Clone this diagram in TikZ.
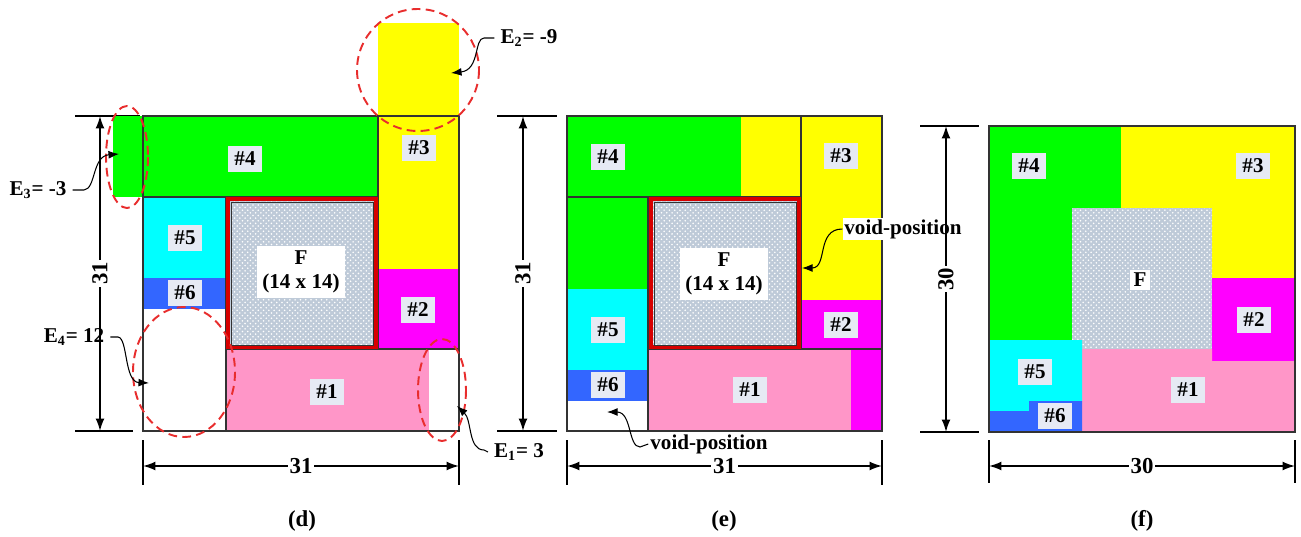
\documentclass[tikz,border=0pt]{standalone}
\usepackage{fontspec}
\setmainfont{Liberation Serif}
\usepackage{xcolor}
\usepackage{tikz}
\usetikzlibrary{arrows.meta,patterns}
\definecolor{pcgreen}{RGB}{0,255,0}
\definecolor{pcyellow}{RGB}{255,255,0}
\definecolor{pccyan}{RGB}{0,255,255}
\definecolor{pcmagenta}{RGB}{255,0,255}
\definecolor{pcpink}{RGB}{255,150,200}
\definecolor{pcblue}{RGB}{51,102,255}
\definecolor{labelbg}{RGB}{230,234,244}
\definecolor{ringred}{RGB}{232,45,45}
\definecolor{framered}{RGB}{215,0,0}
\definecolor{fbase}{RGB}{190,202,216}

\begin{document}
\begin{tikzpicture}[
    x=0.02cm, y=-0.02cm,
    every node/.style={font=\bfseries\fontsize{12}{13.5}\selectfont, align=center},
    numbox/.style={fill=labelbg, inner sep=3.5pt, font=\bfseries\fontsize{12}{13}\selectfont},
    fbox/.style={fill=white, inner sep=3pt},
    outline/.style={draw=black!80, line width=0.6pt},
    extline/.style={line width=0.9pt},
    dimline/.style={line width=0.9pt, {Latex[length=7pt,width=5pt]}-{Latex[length=7pt,width=5pt]}},
    dimtxt/.style={fill=white, inner sep=1pt, font=\bfseries\fontsize{13}{14}\selectfont},
    gapring/.style={draw=ringred, line width=1.1pt, dash pattern=on 5pt off 3pt},
    squig/.style={line width=0.6pt, -{Latex[length=6pt,width=4.5pt]}},
    redframe/.style={draw=framered, line width=2.4pt},
    fpiece/.style={pattern=crosshatch dots, pattern color=white}
]
\useasboundingbox (0,0) rectangle (1301,537);

% ---------------- (d) ----------------
\draw[extline] (75,116) -- (140,116);
\draw[extline] (75,431) -- (133,431);
\draw[extline] (143,440) -- (143,485);
\draw[extline] (459,440) -- (459,485);
\fill[pcgreen] (113,116) rectangle (378,197);
\fill[pcyellow] (378,23) rectangle (459,269);
\fill[pcmagenta] (378,269) rectangle (459,349);
\fill[pccyan] (143,197) rectangle (226,278);
\fill[pcblue] (143,278) rectangle (226,309);
\fill[pcpink] (226,349) rectangle (429,431);
\fill[fbase] (226,197) rectangle (378,349);
\fill[fpiece] (226,197) rectangle (378,349);
\draw[outline] (143,116) rectangle (459,431);
\draw[outline] (143,116) rectangle (378,197);
\draw[outline] (378,116) -- (378,349);
\draw[outline] (226,349) -- (459,349);
\draw[outline] (226,197) -- (226,431);
\draw[redframe] (228,199) rectangle (376,347);
\draw[outline, line width=0.5pt] (231,202) rectangle (373,345);

\node[numbox] (d4) at (245,159) {\#4};
\node[numbox] (d3) at (419,148) {\#3};
\node[numbox] (d5) at (185,238) {\#5};
\node[numbox] (d6) at (185,293) {\#6};
\node[numbox] (d2) at (418,310) {\#2};
\node[numbox] (d1) at (327,392) {\#1};
\node[fbox] (dF) at (301,272) {F\\(14 x 14)};

% gaps
\draw[gapring] (418,70) ellipse (61 and 61);
\draw[gapring] (127,157) ellipse (21 and 51);
\draw[gapring] (184,372) ellipse (51 and 65);
\draw[gapring] (442,390) ellipse (24 and 51);

\node (e2) at (529,38) {E\textsubscript{2}= -9};
\node (e3) at (38,190) {E\textsubscript{3}= -3};
\node (e4) at (74,337) {E\textsubscript{4}= 12};
\node (e1) at (519,452) {E\textsubscript{1}= 3};
\coordinate (tE2) at (451,73);
\coordinate (tE3) at (119,154);
\coordinate (tE4) at (149,383);
\coordinate (tE1) at (457,406);
\draw[squig] (e2.west) -- (484,38) .. controls (474,38) and (480,70) .. (tE2);
\draw[squig] (e3.east) -- (84,190) .. controls (96,189) and (92,156) .. (tE3);
\draw[squig] (e4.east) -- (118,337) .. controls (128,338) and (124,382) .. (tE4);
\draw[squig] (e1.west) -- (484,450) .. controls (468,450) and (472,420) .. (tE1);

\coordinate (dvT) at (100,116);
\coordinate (dvB) at (100,431);
\coordinate (dhL) at (143,466);
\coordinate (dhR) at (459,466);
\draw[dimline] (dvT) -- node[dimtxt, rotate=90] (dv) {31} (dvB);
\draw[dimline] (dhL) -- node[dimtxt] (dh) {31} (dhR);
\node[font=\bfseries\fontsize{13}{14}\selectfont] (capd) at (302,521) {(d)};

% ---------------- (e) ----------------
\draw[extline] (497,116) -- (557,116);
\draw[extline] (497,431) -- (557,431);
\draw[extline] (567,440) -- (567,485);
\draw[extline] (882,440) -- (882,485);
\fill[pcgreen] (567,116) rectangle (741,197);
\fill[pcyellow] (741,116) rectangle (801,197);
\fill[pcyellow] (801,116) rectangle (882,300);
\fill[pcmagenta] (801,300) rectangle (882,349);
\fill[pcgreen] (567,197) rectangle (648,289);
\fill[pccyan] (567,289) rectangle (648,370);
\fill[pcblue] (567,370) rectangle (648,401);
\fill[pcpink] (648,349) rectangle (851,431);
\fill[pcmagenta] (851,349) rectangle (882,431);
\fill[fbase] (648,197) rectangle (801,349);
\fill[fpiece] (648,197) rectangle (801,349);
\draw[outline] (567,116) rectangle (882,431);
\draw[outline] (567,116) rectangle (801,197);
\draw[outline] (801,116) -- (801,349);
\draw[outline] (648,349) -- (882,349);
\draw[outline] (648,197) -- (648,431);
\draw[redframe] (651,199) rectangle (799,347);
\draw[outline, line width=0.5pt] (654,202) rectangle (796,345);

\node[numbox] (e4n) at (608,157) {\#4};
\node[numbox] (e3n) at (841,156) {\#3};
\node[numbox] (e5n) at (608,330) {\#5};
\node[numbox] (e6n) at (608,385) {\#6};
\node[numbox] (e2n) at (841,325) {\#2};
\node[numbox] (e1n) at (750,390) {\#1};
\node[fbox] (eF) at (724,274) {F\\(14 x 14)};

\node[fill=white, inner sep=1pt] (vR) at (903,229) {void-position};
\node[inner sep=1pt] (vB) at (709,444) {void-position};
\coordinate (tvR) at (802,268);
\coordinate (tvB) at (607,412);
\draw[squig] (vR.west) .. controls (816,229) and (828,268) .. (tvR);
\draw[squig] (vB.west) -- (640,447) .. controls (628,447) and (632,412) .. (tvB);

\coordinate (evT) at (523,116);
\coordinate (evB) at (523,431);
\coordinate (ehL) at (567,466);
\coordinate (ehR) at (882,466);
\draw[dimline] (evT) -- node[dimtxt, rotate=90] (ev) {31} (evB);
\draw[dimline] (ehL) -- node[dimtxt] (eh) {31} (ehR);
\node[font=\bfseries\fontsize{13}{14}\selectfont] (cape) at (724,521) {(e)};

% ---------------- (f) ----------------
\draw[extline] (920,126) -- (979,126);
\draw[extline] (920,432) -- (979,432);
\draw[extline] (989,440) -- (989,483);
\draw[extline] (1295,440) -- (1295,483);
\fill[pcgreen] (989,126) -- (1121,126) -- (1121,208) -- (1072,208) -- (1072,340) -- (989,340) -- cycle;
\fill[pcyellow] (1121,126) -- (1295,126) -- (1295,278) -- (1212,278) -- (1212,208) -- (1121,208) -- cycle;
\fill[fbase] (1072,208) rectangle (1212,349);
\fill[fpiece] (1072,208) rectangle (1212,349);
\fill[pcmagenta] (1212,278) rectangle (1295,361);
\fill[pcpink] (1082,349) -- (1212,349) -- (1212,361) -- (1295,361) -- (1295,432) -- (1082,432) -- cycle;
\fill[pccyan] (989,340) -- (1082,340) -- (1082,401) -- (1029,401) -- (1029,411) -- (989,411) -- cycle;
\fill[pcblue] (989,411) -- (1029,411) -- (1029,401) -- (1082,401) -- (1082,432) -- (989,432) -- cycle;
\draw[outline] (989,126) rectangle (1295,432);

\node[numbox] (f4) at (1029,166) {\#4};
\node[numbox] (f3) at (1253,166) {\#3};
\node[fill=white, inner sep=2pt] (fF) at (1140,280) {F};
\node[numbox] (f2) at (1254,320) {\#2};
\node[numbox] (f5) at (1035,372) {\#5};
\node[numbox] (f6) at (1055,416) {\#6};
\node[numbox] (f1) at (1188,390) {\#1};

\coordinate (fvT) at (946,126);
\coordinate (fvB) at (946,432);
\coordinate (fhL) at (989,466);
\coordinate (fhR) at (1295,466);
\draw[dimline] (fvT) -- node[dimtxt, rotate=90] (fv) {30} (fvB);
\draw[dimline] (fhL) -- node[dimtxt] (fh) {30} (fhR);
\node[font=\bfseries\fontsize{13}{14}\selectfont] (capf) at (1142,521) {(f)};
\end{tikzpicture}
\end{document}
